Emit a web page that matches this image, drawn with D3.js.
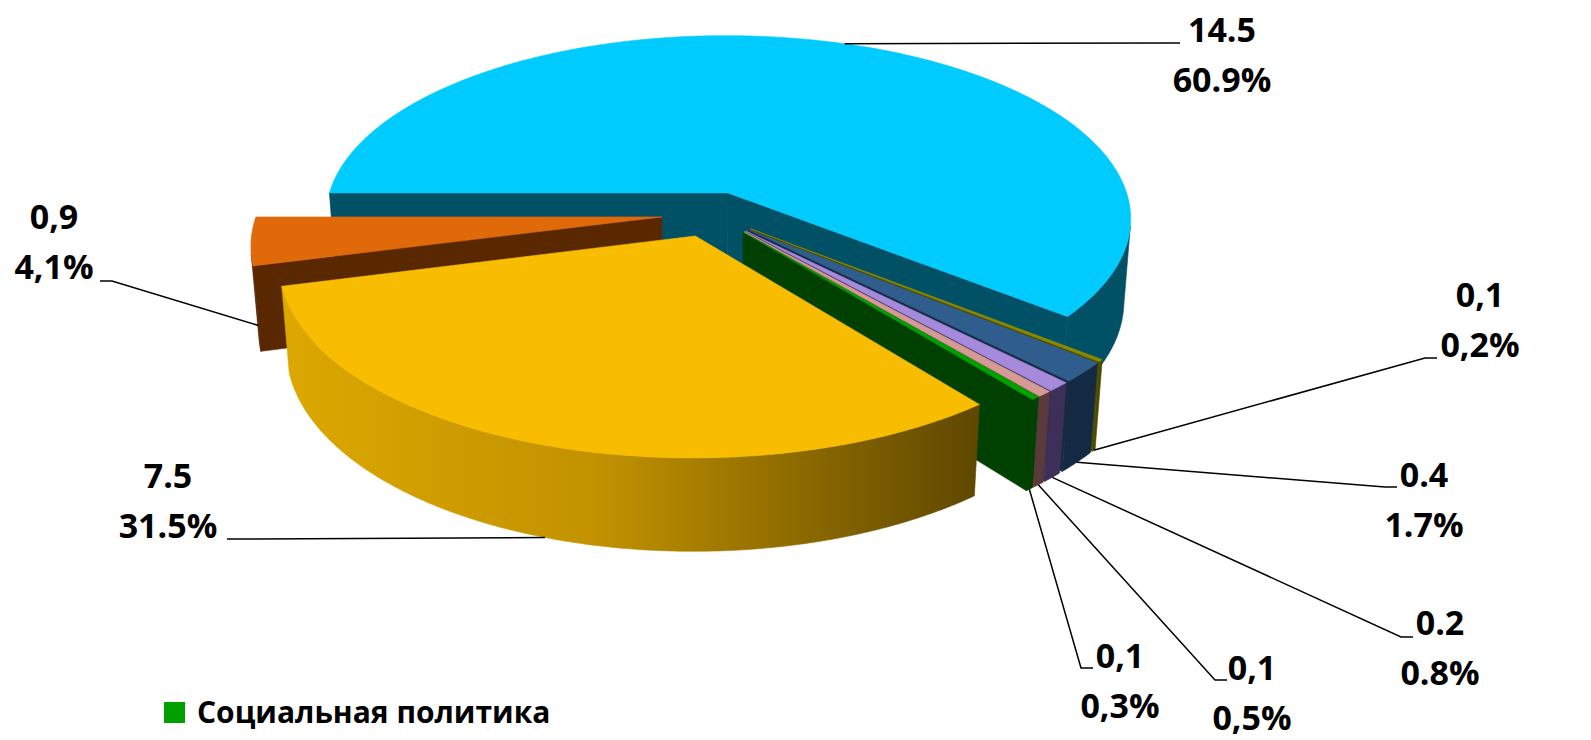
<!DOCTYPE html>
<meta charset="utf-8">
<style>

body { margin: 0; background: #fff; }
svg { display: block; }

.lbl { font-family: "Open Sans", sans-serif; font-weight: 700; font-size: 34px; fill: #000; text-anchor: middle; }
.leader { fill: none; stroke: #000; stroke-width: 1.5px; }
.legend text { font-family: "Open Sans", sans-serif; font-weight: 700; font-size: 30px; fill: #000; }

</style>
<body>
<script src="https://cdn.jsdelivr.net/npm/d3@7"></script>
<script>

// slice shares, clockwise starting from 9 o'clock
var shares = [60.9, 0.2, 1.7, 0.8, 0.5, 0.3, 31.5, 4.1];
var valueLabels = ["14.5", "0,1", "0.4", "0.2", "0,1", "0,1", "7.5", "0,9"];
var shareLabels = ["60.9%", "0,2%", "1.7%", "0.8%", "0,5%", "0,3%", "31.5%", "4,1%"];
var topColors = ["#00cbff", "#8a8a00", "#2f5e8e", "#a68bdc", "#d69a94", "#00a000", "#f8bd00", "#e0690a"];
var sideColors = ["#005066", "#4a4a00", "#142a44", "#3d2f58", "#5a3a3a", "#004000", "#b08400", "#5a2800"];
var legendNames = ["Социальная политика"];
var legendSlices = [5];

var width = 1591, height = 740;

// 3d settings
var R = 405, H = 95, explode = 50,
    tilt = 27.1 * Math.PI / 180, D = 2600,
    cx = 711.5, cy = 214;

// label layout: text centre x, first baseline y, leader end x, leader end y
var labelPos = [
  [1222, 42, 1180, 43],
  [1480, 307, 1437, 358],
  [1424, 487, 1397, 487],
  [1440, 635, 1413, 637],
  [1252, 680, 1227, 680],
  [1120, 668, 1093, 668],
  [168, 488, 227, 539],
  [54, 229, 100, 281]
];

var cam = [0, D * Math.sin(tilt), -D * Math.cos(tilt)];

function proj(X, Y, Z) {
  var yc = Y * Math.cos(tilt) + Z * Math.sin(tilt);
  var zc = -Y * Math.sin(tilt) + Z * Math.cos(tilt);
  var s = D / (D + zc);
  return [cx + X * s, cy - yc * s, zc];
}

function facing(n, p) {
  return n[0] * (cam[0] - p[0]) + n[1] * (cam[1] - p[1]) + n[2] * (cam[2] - p[2]) > 0;
}

var arcs = d3.pie().sort(null)
    .startAngle(-Math.PI / 2)
    .endAngle(1.5 * Math.PI)(shares);

var svg = d3.select("body").append("svg")
    .attr("width", width)
    .attr("height", height);

var defs = svg.append("defs");

var walls = [], tops = [];

arcs.forEach(function(d, i) {
  var mid = (d.startAngle + d.endAngle) / 2,
      ox = explode * Math.sin(mid),
      oz = explode * Math.cos(mid);
  d.ox = ox; d.oz = oz; d.mid = mid;

  function rim(a, Y) { return proj(ox + R * Math.sin(a), Y, oz + R * Math.cos(a)); }

  var n = Math.max(2, Math.ceil((d.endAngle - d.startAngle) / (0.5 * Math.PI / 180)));
  var angles = d3.range(n + 1).map(function(k) { return d.startAngle + (d.endAngle - d.startAngle) * k / n; });

  // top face
  var topPts = [proj(ox, 0, oz)].concat(angles.map(function(a) { return rim(a, 0); }));
  tops.push({i: i, pts: topPts, fill: topColors[i]});

  // outer wall, split in visible runs
  var run = null;
  for (var k = 0; k < n; k++) {
    var am = (angles[k] + angles[k + 1]) / 2;
    var vis = facing([Math.sin(am), 0, Math.cos(am)],
      [ox + R * Math.sin(am), -H / 2, oz + R * Math.cos(am)]);
    if (vis) {
      if (!run) run = [k, k + 1]; else run[1] = k + 1;
    }
    if ((!vis || k === n - 1) && run) {
      var a = angles.slice(run[0], run[1] + 1);
      var pts = a.map(function(t) { return rim(t, 0); })
        .concat(a.slice().reverse().map(function(t) { return rim(t, -H); }));
      walls.push({i: i, pts: pts, fill: sideColors[i], outer: true});
      run = null;
    }
  }

  // radial faces
  [[d.startAngle, [-Math.cos(d.startAngle), 0, Math.sin(d.startAngle)]],
   [d.endAngle, [Math.cos(d.endAngle), 0, -Math.sin(d.endAngle)]]].forEach(function(f) {
    var a = f[0];
    var c = [ox + R / 2 * Math.sin(a), -H / 2, oz + R / 2 * Math.cos(a)];
    if (!facing(f[1], c)) return;
    var pts = [proj(ox, 0, oz), rim(a, 0), rim(a, -H), proj(ox, -H, oz)];
    walls.push({i: i, pts: pts, fill: sideColors[i]});
  });
});

function depth(f) { return d3.mean(f.pts, function(p) { return p[2]; }); }
walls.sort(function(a, b) { return depth(b) - depth(a); });
tops.sort(function(a, b) { return depth(b) - depth(a); });

// lit gradient along the front of the big yellow slice
var yellowWalls = walls.filter(function(w) { return w.i === 6 && w.outer; });
var xExt = d3.extent(d3.merge(yellowWalls.map(function(w) { return w.pts; })), function(p) { return p[0]; });
var grad = defs.append("linearGradient")
    .attr("id", "yellowSide")
    .attr("gradientUnits", "userSpaceOnUse")
    .attr("x1", xExt[0]).attr("x2", xExt[1])
    .attr("y1", 0).attr("y2", 0);
[[0, "#dca800"], [0.45, "#c29200"], [1, "#5e4700"]].forEach(function(s) {
  grad.append("stop").attr("offset", s[0]).attr("stop-color", s[1]);
});
yellowWalls.forEach(function(w) { w.fill = "url(#yellowSide)"; });

var line = d3.line().x(function(p) { return p[0]; }).y(function(p) { return p[1]; });

var pie = svg.append("g");

pie.selectAll("path.wall")
    .data(walls)
  .enter().append("path")
    .attr("class", "wall")
    .attr("d", function(f) { return line(f.pts) + "Z"; })
    .attr("fill", function(f) { return f.fill; })
    .attr("stroke", function(f) { return f.fill; })
    .attr("stroke-width", 0.6)
    .attr("stroke-linejoin", "round");

pie.selectAll("path.top")
    .data(tops)
  .enter().append("path")
    .attr("class", "top")
    .attr("d", function(f) { return line(f.pts) + "Z"; })
    .attr("fill", function(f) { return f.fill; })
    .attr("stroke", function(f) { return f.fill; })
    .attr("stroke-width", 0.6)
    .attr("stroke-linejoin", "round");

// leader lines and labels
var labels = svg.append("g");

arcs.forEach(function(d, i) {
  var back = Math.cos(d.mid) > 0;
  var a = proj(d.ox + R * Math.sin(d.mid), back ? 0 : -H, d.oz + R * Math.cos(d.mid));
  var lp = labelPos[i];
  var dir = a[0] > lp[2] ? 1 : -1;
  labels.append("path")
      .attr("class", "leader")
      .attr("d", line([[a[0], a[1]], [lp[2] + 12 * dir, lp[3]], [lp[2], lp[3]]]));
  labels.append("text")
      .attr("class", "lbl")
      .attr("x", lp[0])
      .attr("y", lp[1])
      .text(valueLabels[i]);
  labels.append("text")
      .attr("class", "lbl")
      .attr("x", lp[0])
      .attr("y", lp[1] + 50)
      .text(shareLabels[i]);
});

// legend (only the entry that is shown)
var legend = svg.append("g").attr("class", "legend")
    .attr("transform", "translate(164,702)");

legend.selectAll("rect")
    .data(legendSlices)
  .enter().append("rect")
    .attr("width", 21)
    .attr("height", 21)
    .attr("fill", function(s) { return topColors[s]; });

legend.selectAll("text")
    .data(legendNames)
  .enter().append("text")
    .attr("x", 33)
    .attr("y", 21)
    .text(function(t) { return t; });

</script>
